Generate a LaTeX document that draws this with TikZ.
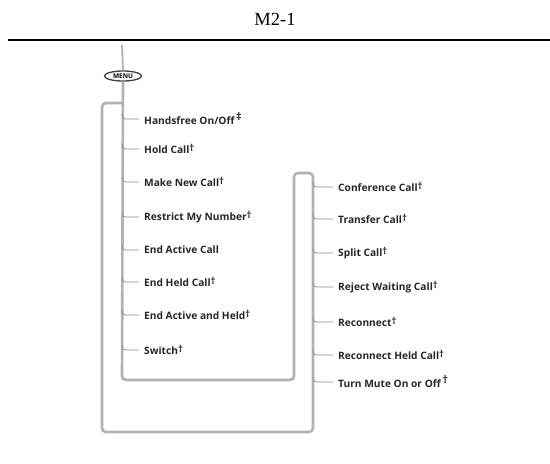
\documentclass[tikz,border=0pt]{standalone}
\usepackage{fontspec}
\usetikzlibrary{shapes.geometric}
\setmainfont{Liberation Serif}
\newfontfamily\itemfont{Open Sans}
\newcommand\dg{\raisebox{2.5pt}{\fontsize{9.5}{9}\selectfont\textdagger}}
\newcommand\ddg{\raisebox{4pt}{\fontsize{10.5}{10}\selectfont\textdaggerdbl}}
\newcommand\dgr{\raisebox{4pt}{\fontsize{10.5}{10}\selectfont\,\textdagger}}
\begin{document}
\begin{tikzpicture}[x=1pt,y=-1pt]
\tikzset{
  loopline/.style={draw=black!30, line width=2.6pt, rounded corners=4pt},
  tick/.style={draw=black!45, line width=0.8pt},
  item/.style={anchor=west, inner sep=0pt, font=\itemfont\bfseries\fontsize{10.2}{12}\selectfont, text=black!85},
}
\useasboundingbox (0,0) rectangle (550,464);
\node[font=\fontsize{18.5}{20}\selectfont] (title) at (275,19) {M2-1};
\draw[line width=2pt] (8,40) -- (550,40);
% menu button
\coordinate (top) at (122,45);
\node[draw=black!75, line width=1.3pt, ellipse, inner sep=0pt, minimum width=37pt, minimum height=10pt,
      font=\itemfont\bfseries\fontsize{6.5}{7}\selectfont] (menu) at (123,76) {MENU};
\draw[loopline, line width=1.8pt] (top) -- (menu.north);
% the loop
\coordinate (a1) at (122,103);
\coordinate (a2) at (102,103);
\coordinate (a3) at (102,432);
\coordinate (a4) at (313,432);
\coordinate (a5) at (313,173);
\coordinate (a6) at (294,173);
\coordinate (a7) at (294,380);
\coordinate (a8) at (122,380);
\draw[loopline] (menu.south) -- (a8) -- (a7) -- (a6) -- (a5) -- (a4) -- (a3) -- (a2) -- (a1);
% left items
\foreach \n/\y/\t in {l1/119/{Handsfree On/Off\,\ddg},
                      l2/149/{Hold Call\dg},
                      l3/182/{Make New Call\dg},
                      l4/217/{Restrict My Number\dg},
                      l5/250/{End Active Call},
                      l6/282/{End Held Call\dg},
                      l7/315/{End Active and Held\dg},
                      l8/350/{Switch\dg}}{
  \node[item] (\n) at (144,\y) {\t};
  \coordinate (\n s) at (122,\y-5);
  \draw[tick] (\n s) .. controls (122,\y) and (124,\y) .. (128,\y) -- ([xshift=-5pt]\n.west);
}
% right items
\foreach \n/\y/\t in {r1/187/{Conference Call\dg},
                      r2/219/{Transfer Call\dg},
                      r3/253/{Split Call\dg},
                      r4/287/{Reject Waiting Call\dg},
                      r5/322/{Reconnect\dg},
                      r6/355/{Reconnect Held Call\dg},
                      r7/382/{Turn Mute On or Off\dgr}}{
  \node[item] (\n) at (338,\y) {\t};
  \coordinate (\n s) at (313,\y-5);
  \draw[tick] (\n s) .. controls (313,\y) and (315,\y) .. (319,\y) -- ([xshift=-5pt]\n.west);
}
\end{tikzpicture}
\end{document}
